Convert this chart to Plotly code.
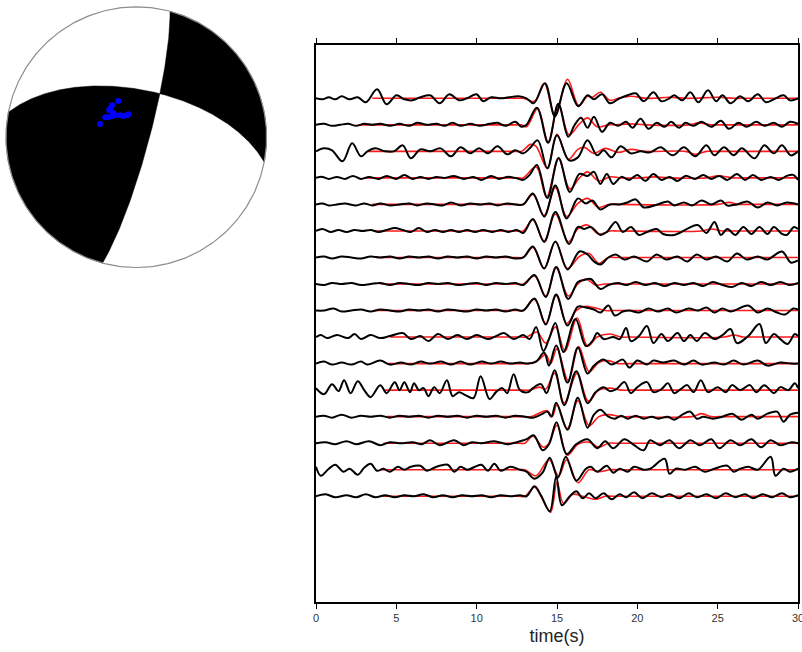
import numpy as np
import plotly.graph_objects as go

# ---------------- data ----------------
# focal mechanism nodal planes (strike, dip in degrees)
STRIKE1, DIP1 = 15.0, 82.0
STRIKE2, DIP2 = 281.0, 60.0

# station points on the beachball (normalized projection coordinates)
STA_X = [-0.138, -0.185, -0.200, -0.208, -0.177, -0.238, -0.215, -0.185, -0.162, -0.123, -0.100, -0.069, -0.062, -0.279]
STA_Y = [0.277, 0.246, 0.223, 0.208, 0.185, 0.154, 0.154, 0.162, 0.169, 0.169, 0.162, 0.169, 0.177, 0.101]

X_TICKS = [0, 5, 10, 15, 20, 25, 30]
X_TITLE = "time(s)"

# observed (black) waveforms: (time s, amplitude) keypoints
O0 = [(0,0),(0.4,-1),(0.8,1),(1.2,-1),(1.6,2),(2.1,-1),(2.6,1),(3.1,-4),(3.8,9),(4.4,-6),(5.0,3),(5.5,-1),(6.0,-2),(6.5,1),(7.1,3),(7.7,-5),(8.3,4),(8.9,-2),(9.4,0),(10.0,4),(10.4,-3),(10.9,1),(11.5,0),(12.0,1),(12.6,2),(13.1,0),(13.55,-5),(14.25,15),(14.87,-18),(15.6,15),(16.32,-8),(16.9,3),(17.3,-1),(17.8,4),(18.3,-5),(18.9,0),(19.4,3),(19.9,5),(20.4,-3),(21.0,6),(21.5,-3),(22.0,0),(22.3,3),(22.8,-2),(23.3,6),(23.8,-4),(24.4,8),(24.9,-3),(25.3,3),(25.8,-5),(26.4,2),(26.9,-3),(27.5,4),(28.0,-4),(28.5,-1),(29.1,3),(29.5,-2),(30,0)]
O1 = [(0,0),(0.5,1),(1.0,-1),(1.5,0),(2.0,1),(2.5,-1),(3.0,1),(3.5,0),(4.0,1),(4.6,-1),(5.2,1),(5.8,-1),(6.3,2),(6.9,0),(7.5,1),(8.0,-1),(8.5,2),(9.0,-1),(9.6,1),(10.2,-1),(10.8,1),(11.3,2),(11.8,-1),(12.4,3),(12.8,-2),(13.1,0),(13.75,17),(14.45,-18),(15.08,21),(15.7,-12),(16.1,0),(16.5,7),(16.9,-3),(17.3,8),(17.8,-7),(18.3,2),(18.8,-1),(19.3,3),(19.7,-3),(20.2,6),(20.7,-4),(21.2,2),(21.7,-2),(22.1,3),(22.6,-3),(23.0,2),(23.5,-1),(24.0,3),(24.6,-2),(25.2,4),(25.7,-4),(26.3,2),(26.8,-2),(27.4,3),(27.9,-1),(28.5,2),(29.0,-2),(29.5,3),(30,1)]
O2 = [(0,0),(0.5,3),(1.0,1),(1.65,-10),(2.25,8),(2.8,-5),(3.2,0),(3.7,3),(4.3,0),(4.85,0),(5.4,6),(5.9,-7),(6.5,2),(7.1,0),(7.75,3),(8.4,-5),(9.0,4),(9.6,-2),(10.15,3),(10.7,-2),(11.3,5),(11.9,-3),(12.4,1),(12.9,-2),(13.3,3),(13.8,11),(14.4,-17),(15.0,16),(15.75,-9),(16.3,-6),(16.9,11),(17.5,-4),(17.9,1),(18.4,-6),(18.95,5),(19.6,-2),(20.2,0),(20.8,-1),(21.45,4),(22.2,-4),(22.9,4),(23.6,-5),(24.3,6),(24.8,-4),(25.4,4),(26.0,-4),(26.5,3),(27.3,-7),(27.9,6),(28.5,-2),(29.0,6),(29.55,-4),(30,0)]
O3 = [(0,0),(0.4,1),(0.8,-1),(1.3,1),(1.8,-1),(2.3,2),(2.8,-1),(3.3,1),(3.9,-1),(4.4,2),(5.0,-1),(5.5,3),(6.0,-1),(6.5,1),(7.0,-1),(7.5,1),(8.0,0),(8.6,2),(9.2,-1),(9.8,1),(10.3,-2),(10.9,2),(11.4,-1),(11.9,1),(12.4,0),(12.9,-2),(13.3,3),(13.75,13),(14.4,-20),(15.1,20),(15.8,-14),(16.4,4),(16.9,2),(17.3,6),(17.7,-6),(18.1,4),(18.5,-6),(19.0,1),(19.5,-2),(20.0,3),(20.5,-3),(21.0,4),(21.5,-2),(22.0,1),(22.5,-3),(23.0,2),(23.6,-1),(24.1,3),(24.6,-1),(25.1,2),(25.6,-2),(26.2,4),(26.7,-2),(27.2,3),(27.7,-2),(28.3,1),(28.8,-2),(29.3,2),(29.7,3),(30,-2)]
O4 = [(0,0),(0.4,1),(0.8,-1),(1.3,0),(1.8,1),(2.5,-1),(3.0,1),(3.5,-1),(4.0,1),(4.6,-1),(5.2,0),(5.8,1),(6.3,-1),(6.9,1),(7.4,0),(7.9,-1),(8.4,2),(9.0,-1),(9.6,1),(10.2,0),(10.8,1),(11.3,-1),(11.9,1),(12.4,0),(12.9,0),(13.5,11),(14.2,-12),(14.9,19),(15.6,-14),(16.3,6),(16.8,1),(17.2,4),(17.7,-5),(18.3,0),(18.9,0),(19.4,2),(19.9,5),(20.4,-3),(21.25,0),(21.9,3),(22.3,-1),(22.9,2),(23.4,-1),(24.0,4),(24.6,0),(25.2,4),(25.6,-1),(26.2,0),(26.85,3),(27.5,-3),(28.1,2),(28.7,-1),(29.3,2),(30,0)]
O5 = [(0,0),(0.4,2),(0.9,-1),(1.4,1),(1.9,-1),(2.4,1),(2.9,0),(3.4,1),(3.9,-1),(4.4,1),(4.9,3),(5.4,1),(5.9,-1),(6.4,3),(6.9,-1),(7.4,1),(7.9,-1),(8.4,1),(8.9,-1),(9.4,1),(9.9,-1),(10.4,1),(11.0,-1),(11.5,1),(12.0,-1),(12.5,1),(12.9,-2),(13.5,12),(14.2,-11),(14.9,19),(15.75,-13),(16.3,4),(16.7,2),(17.1,4),(17.7,-4),(18.1,-1),(18.65,9),(19.1,-1),(19.6,4),(20.1,-4),(20.6,-1),(21.2,2),(21.6,-3),(22.3,-4),(23.1,2),(23.75,6),(24.3,-2),(24.8,9),(25.2,-4),(25.6,2),(26.1,-4),(26.6,4),(27.1,-3),(27.6,4),(28.1,-3),(28.5,4),(29.0,-3),(29.3,-4),(29.75,4),(30,2)]
O6 = [(0,0),(0.5,1),(1.0,-1),(1.6,1),(2.2,0),(2.8,-1),(3.4,1),(4.0,0),(4.6,1),(5.2,-1),(5.8,1),(6.4,0),(7.0,1),(7.6,-1),(8.2,1),(8.8,0),(9.4,1),(10.0,-1),(10.6,1),(11.2,0),(11.8,1),(12.4,-1),(12.9,0),(13.5,11),(14.2,-11),(14.9,16),(15.65,-12),(16.4,6),(16.9,3),(17.3,-4),(17.7,-7),(18.2,0),(18.65,3),(19.2,-2),(19.8,1),(20.6,-4),(21.2,3),(21.8,-2),(22.5,1),(23.1,-4),(23.7,3),(24.3,-2),(24.9,1),(25.6,-4),(26.2,4),(26.8,-2),(27.5,1),(28.1,-2),(29.0,6),(29.55,-5),(30,-3)]
O7 = [(0,0),(0.5,-1),(1.0,1),(1.6,0),(2.2,1),(2.8,-1),(3.4,0),(4.0,1),(4.6,-1),(5.2,1),(5.8,0),(6.4,-1),(7.0,1),(7.6,0),(8.2,1),(8.8,-1),(9.4,0),(10.0,1),(10.6,-1),(11.2,1),(11.8,0),(12.4,1),(12.9,-1),(13.6,9),(14.3,-13),(14.95,17),(15.7,-15),(16.3,2),(16.7,4),(17.1,5),(17.7,-5),(18.2,-1),(18.8,1),(19.3,-1),(19.9,2),(20.5,-1),(21.1,1),(21.7,-2),(22.3,1),(22.9,-1),(23.5,1),(24.1,-2),(24.7,2),(25.3,-1),(25.9,-3),(26.5,1),(27.1,-2),(27.7,2),(28.3,-1),(28.9,2),(29.5,-1),(30,1)]
O8 = [(0,0),(0.5,0),(1.1,2),(1.6,-1),(2.2,0),(2.8,1),(3.4,-1),(4.0,1),(4.6,0),(5.2,-1),(5.8,1),(6.4,0),(7.0,1),(7.6,-1),(8.2,1),(8.8,0),(9.4,-1),(10.0,1),(10.6,0),(11.2,1),(11.8,-1),(12.4,1),(12.9,0),(13.6,12),(14.3,-14),(14.95,16),(15.65,-15),(16.3,4),(16.8,3),(17.3,1),(17.7,-2),(18.2,5),(18.6,-5),(19.1,-1),(19.5,0),(20.1,-2),(20.7,2),(21.3,-1),(21.9,2),(22.4,-2),(23.2,2),(23.8,0),(24.3,3),(24.8,-2),(25.3,2),(25.8,-1),(26.9,5),(27.5,-2),(28.1,2),(28.7,-2),(29.2,-4),(29.7,2),(30,1)]
O9 = [(0,0),(0.3,2),(0.7,-1),(1.3,2),(2.0,-1),(2.4,3),(2.8,-2),(3.4,2),(4.0,-1),(4.6,1),(5.4,4),(5.9,-2),(6.5,1),(7.0,-4),(7.6,3),(8.2,-2),(8.8,2),(9.4,-2),(10.0,2),(10.7,-2),(11.2,1),(11.7,4),(12.3,-2),(12.9,2),(13.3,-2),(13.7,10),(14.15,-14),(14.5,-2),(14.9,14),(15.4,-15),(16.15,18),(16.8,-9),(17.2,-4),(17.5,4),(17.9,-2),(18.5,0),(18.9,-2),(19.3,9),(19.6,-4),(20.1,1),(20.6,11),(21.0,-6),(21.5,3),(21.9,-4),(22.5,4),(22.9,-4),(23.3,2),(23.7,-4),(24.2,4),(24.8,-2),(25.3,2),(25.8,8),(26.2,-6),(26.9,1),(27.6,13),(28.0,-6),(28.5,3),(28.9,-2),(29.35,-7),(29.8,3),(30,1)]
O10 = [(0,0),(0.5,2),(1.0,-1),(1.6,1),(2.2,-1),(2.8,2),(3.2,-1),(4.0,3),(4.6,-1),(5.3,1),(5.9,-1),(6.5,2),(7.1,0),(7.8,2),(8.4,-1),(9.0,2),(9.6,-1),(10.3,2),(10.9,0),(11.5,2),(12.1,0),(12.7,1),(13.2,0),(13.7,2),(14.2,11),(14.5,-2),(14.95,18),(15.65,-19),(16.3,16),(16.9,-10),(17.3,-2),(17.9,4),(18.4,-1),(19.1,4),(19.5,-4),(20.0,3),(20.6,-1),(21.0,3),(21.6,1),(22.3,3),(22.9,-1),(23.5,3),(24.0,-1),(24.8,1),(25.4,-1),(26.0,3),(26.6,-1),(27.5,3),(28.1,-2),(28.9,1),(29.6,0),(30,0)]
O11 = [(0,2),(0.5,-4),(1.0,6),(1.4,-1),(1.75,10),(2.15,-3),(2.6,9),(3.0,0),(3.4,-7),(4.0,5),(4.4,-3),(4.9,8),(5.2,0),(5.5,8),(5.85,-2),(6.1,7),(6.4,0),(6.7,2),(7.0,-6),(7.35,3),(7.7,-3),(8.15,10),(8.5,-6),(8.9,-2),(9.3,-5),(9.8,-8),(10.25,14),(10.8,-9),(11.2,-2),(11.6,2),(11.9,-3),(12.3,16),(12.7,0),(13.2,-2),(13.5,2),(14.0,6),(14.35,-3),(14.85,20),(15.45,-15),(16.2,19),(16.9,-13),(17.4,-2),(17.9,3),(18.3,-1),(18.7,1),(19.2,8),(19.6,-3),(20.0,3),(20.6,8),(21.0,-2),(21.5,1),(21.9,7),(22.3,-3),(22.7,1),(23.1,5),(23.5,-2),(23.95,10),(24.4,-2),(25.0,3),(25.5,-2),(25.9,5),(26.4,0),(27.0,5),(27.4,-2),(27.9,5),(28.5,-3),(28.9,3),(29.4,0),(29.8,7),(30,2)]
O12 = [(0,0),(0.5,1),(1.0,-1),(1.6,2),(2.2,-1),(2.8,1),(3.4,0),(4.0,1),(4.6,-1),(5.2,1),(5.8,0),(6.4,1),(7.0,-1),(7.6,1),(8.2,0),(8.8,1),(9.4,-1),(10.0,1),(10.6,0),(11.2,1),(11.8,-1),(12.4,1),(13.0,0),(13.5,-1),(14.0,2),(14.4,5),(14.65,0),(14.95,14),(15.65,-13),(16.3,19),(16.9,-11),(17.3,2),(17.7,7),(18.2,0),(18.6,-2),(19.0,1),(19.4,-2),(19.9,1),(20.4,-2),(20.9,0),(21.3,-2),(21.9,0),(22.3,-3),(22.8,2),(23.3,5),(23.7,-2),(24.1,0),(24.7,-2),(25.3,0),(25.9,3),(26.5,-3),(27.1,2),(27.5,-2),(28.1,3),(28.7,5),(29.1,-5),(29.5,2),(30,4)]
O13 = [(0,0),(0.6,1),(1.2,-1),(1.9,2),(2.5,-1),(3.3,2),(4.0,-2),(4.6,1),(5.3,0),(6.0,1),(6.6,-1),(7.1,3),(7.7,-2),(8.6,3),(9.2,-2),(9.7,1),(10.3,0),(11.1,2),(11.9,-1),(12.5,1),(13.1,4),(13.55,8),(14.1,-7),(14.5,-1),(14.97,21),(15.6,-11),(16.2,-1),(16.9,4),(17.5,-5),(18.0,2),(18.5,-5),(19.2,4),(19.8,-2),(20.4,-7),(20.8,3),(21.4,-2),(22.0,3),(22.6,-5),(23.3,3),(23.9,-2),(24.6,4),(25.1,-5),(25.8,3),(26.4,-2),(27.1,4),(27.7,-4),(28.3,3),(28.9,-2),(29.6,1),(30,0)]
O14 = [(0,3),(0.3,-6),(0.8,1),(1.2,5),(1.7,-2),(2.1,1),(2.6,-5),(3.0,2),(3.4,6),(3.8,-1),(4.2,1),(4.6,-2),(5.1,3),(5.5,0),(5.9,3),(6.5,4),(6.9,-1),(7.5,3),(8.2,5),(8.6,-2),(9.0,3),(9.4,0),(9.9,3),(10.3,5),(10.7,-1),(11.1,6),(11.5,-1),(12.1,3),(12.7,0),(13.1,-2),(13.6,-9),(14.1,-3),(14.55,12),(15.05,-8),(15.55,13),(16.2,-11),(16.8,1),(17.1,3),(17.5,-2),(18.1,4),(18.5,-3),(18.9,1),(19.4,-2),(19.8,3),(20.4,0),(20.8,1),(21.7,11),(22.0,-4),(22.4,1),(23.0,0),(23.6,3),(24.2,-2),(24.8,1),(25.6,4),(26.0,-2),(26.4,1),(26.9,3),(27.5,0),(28.3,13),(28.6,-6),(29.1,1),(29.5,-2),(30,1)]
O15 = [(0,0),(0.6,2),(1.2,-1),(1.9,1),(2.5,-1),(3.1,2),(3.7,-1),(4.3,1),(4.9,-1),(5.5,1),(6.1,0),(6.7,2),(7.3,-1),(7.9,1),(8.5,-1),(9.1,1),(9.7,0),(10.3,1),(10.9,-1),(11.5,1),(12.1,0),(12.7,1),(13.1,0),(13.6,10),(14.0,1),(14.55,-15),(14.95,20),(15.3,-9),(15.8,0),(16.2,5),(16.6,-2),(17.0,3),(17.4,-2),(17.9,3),(18.4,-3),(18.9,2),(19.3,-1),(19.8,4),(20.3,-2),(20.9,3),(21.5,-1),(22.0,2),(22.6,-2),(23.2,3),(23.7,-1),(24.3,2),(24.9,-2),(25.5,3),(26.1,-1),(26.7,2),(27.2,-2),(27.8,2),(28.4,-1),(29.0,3),(29.5,-1),(30,1)]

# synthetic (red) waveforms: (time s, amplitude) keypoints
R0 = [(3.5,0),(12.4,0),(12.9,0),(13.6,-3),(14.2,15),(14.87,-17),(15.65,19),(16.35,-7),(16.9,2),(17.2,1),(17.7,6),(18.3,-2),(18.8,0),(19.6,2),(20.5,0),(21.0,0),(22.0,1),(23.0,0),(23.5,0),(25.0,1),(26.0,0),(26.5,0),(30,0)]
R1 = [(2.6,0),(12.4,0),(12.8,0),(13.1,-2),(13.8,16),(14.45,-17),(15.1,20),(15.75,-10),(16.4,1),(16.9,7),(17.5,-2),(18.2,0),(18.7,0),(19.5,1),(20.5,0),(23.2,0),(23.8,2),(24.6,0),(25.1,0),(30,0)]
R2 = [(3.2,0),(12.4,0),(12.8,0),(13.35,7),(13.7,5),(14.4,-17),(15.0,17),(15.7,-8),(16.3,2),(16.7,4),(17.3,-2),(18.0,3),(18.8,-1),(19.6,2),(20.5,0),(23.0,0),(23.6,-3),(24.3,0),(24.8,0),(30,0)]
R3 = [(3.0,0),(12.5,0),(12.9,0),(13.7,11),(14.35,-19),(15.1,19),(15.8,-11),(16.4,0),(16.9,6),(17.6,-3),(18.3,1),(19.0,0),(20.3,0),(21.0,1),(22.0,0),(24.3,0),(25.0,2),(26.0,0),(26.5,0),(30,0)]
R4 = [(3.5,0),(12.5,0),(12.9,0),(13.5,10),(14.2,-11),(14.9,17),(15.6,-12),(16.3,1),(16.9,6),(17.6,-3),(18.2,0),(18.7,0),(25.0,0),(25.7,2),(26.3,0),(26.8,0),(30,0)]
R5 = [(3.6,0),(12.5,0),(12.9,0),(13.5,11),(14.2,-10),(14.9,17),(15.7,-11),(16.3,2),(16.9,6),(17.6,-3),(18.3,0),(18.8,0),(24.0,0),(24.6,2),(25.3,0),(25.8,0),(30,0)]
R6 = [(3.9,0),(12.5,0),(12.9,0),(13.5,10),(14.2,-11),(14.9,16),(15.65,-11),(16.4,1),(17.0,4),(17.6,-6),(18.2,0),(18.7,0),(30,0)]
R7 = [(4.0,0),(12.5,0),(12.9,0),(13.6,8),(14.3,-12),(14.95,16),(15.7,-12),(16.3,0),(16.8,5),(17.4,-1),(18.0,0),(18.5,0),(30,0)]
R8 = [(3.6,0),(12.5,0),(12.9,0),(13.6,11),(14.3,-13),(14.95,15),(15.6,-13),(16.2,0),(16.7,4),(17.3,3),(18.0,0),(18.5,0),(30,0)]
R9 = [(4.6,0),(12.7,0),(13.1,0),(13.75,5),(14.3,-6),(14.9,10),(15.5,-14),(16.25,19),(16.9,-9),(17.5,0),(18.3,3),(19.0,0),(19.5,0),(25.4,0),(26.0,2),(26.6,0),(27.1,0),(30,0)]
R10 = [(4.5,0),(12.8,0),(13.2,0),(13.8,3),(14.3,9),(14.6,0),(15.0,15),(15.7,-17),(16.35,17),(17.0,-8),(17.6,1),(18.2,3),(18.8,0),(19.3,0),(30,0)]
R11 = [(4.3,0),(12.9,0),(13.3,0),(13.9,3),(14.3,1),(14.85,17),(15.45,-13),(16.25,17),(16.95,-11),(17.6,0),(18.3,2),(19.0,0),(19.5,0),(30,0)]
R12 = [(4.4,0),(13.0,0),(13.4,0),(14.4,6),(14.7,0),(15.0,12),(15.65,-12),(16.3,16),(17.0,-9),(17.6,0),(18.2,2),(19.0,0),(19.5,0),(23.4,0),(24.0,3),(24.6,0),(25.1,0),(30,0)]
R13 = [(4.2,0),(12.6,0),(13.0,0),(13.5,7),(14.15,-4),(14.5,0),(15.0,18),(15.65,-12),(16.3,-1),(17.0,1),(17.6,-4),(18.2,0),(18.7,0),(30,0)]
R14 = [(4.0,0),(12.6,0),(13.0,0),(13.7,-6),(14.5,10),(15.1,-6),(15.6,10),(16.3,-13),(17.0,0),(17.6,-2),(18.3,0),(18.8,0),(30,0)]
R15 = [(4.1,0),(12.6,0),(13.0,0),(13.6,9),(14.0,0),(14.6,-16),(15.0,14),(15.4,-7),(16.0,2),(16.6,0),(17.4,-3),(18.0,0),(18.5,0),(30,0)]

OBSERVED = [O0, O1, O2, O3, O4, O5, O6, O7, O8, O9, O10, O11, O12, O13, O14, O15]
SYNTHETIC = [R0, R1, R2, R3, R4, R5, R6, R7, R8, R9, R10, R11, R12, R13, R14, R15]

# ---------------- styling / layout constants ----------------
W, H = 802, 652
SPACING = 26.53           # vertical trace separation (y units)
PLOT_L, PLOT_R, PLOT_T, PLOT_B = 316, 798, 45, 602
FIRST_BASE = 98.3

fig = go.Figure()

# ---- seismograms ----
for i, syn in enumerate(SYNTHETIC):
    off = -i * SPACING
    st, sa = zip(*syn)
    fig.add_trace(go.Scatter(x=list(st), y=[a + off for a in sa], mode="lines",
                             line=dict(color="#ff1a1a", width=1.6, shape="spline", smoothing=1.0),
                             hoverinfo="skip", showlegend=False, xaxis="x", yaxis="y"))
for i, obs in enumerate(OBSERVED):
    off = -i * SPACING
    ot, oa = zip(*obs)
    fig.add_trace(go.Scatter(x=list(ot), y=[a + off for a in oa], mode="lines",
                             line=dict(color="black", width=2.0, shape="spline", smoothing=1.0),
                             hoverinfo="skip", showlegend=False, xaxis="x", yaxis="y"))

# ---- beachball (lower hemisphere, equal-area) ----
def plane_vectors(strike, dip):
    f, d = np.radians(strike), np.radians(dip)
    s = np.array([np.cos(f), np.sin(f), 0.0])
    dv = np.array([-np.sin(f) * np.cos(d), np.cos(f) * np.cos(d), np.sin(d)])
    n = np.array([-np.sin(d) * np.sin(f), np.sin(d) * np.cos(f), -np.cos(d)])
    return s, dv, n

def project(v):
    N, E, D = v
    D = np.clip(D, 0.0, 1.0)
    p = np.arcsin(D)
    r = np.sqrt(2.0) * np.sin((np.pi / 2 - p) / 2)
    az = np.arctan2(E, N)
    return r * np.sin(az), r * np.cos(az)

def plane_curve(s, dv, th0, th1, n=200):
    th = np.linspace(th0, th1, n)
    v = np.outer(np.cos(th), s) + np.outer(np.sin(th), dv)
    return project(v.T)

def prim_arc(a0, a1, n=200):
    a = np.radians(np.linspace(a0, a1, n))
    return np.sin(a), np.cos(a)

s1, d1, n1 = plane_vectors(STRIKE1, DIP1)
s2, d2, n2 = plane_vectors(STRIKE2, DIP2)
B = np.cross(n1, n2)
B = B / np.linalg.norm(B)
if B[2] < 0:
    B = -B
thB1 = np.arctan2(B @ d1, B @ s1)
thB2 = np.arctan2(B @ d2, B @ s2)

# compressional quadrant 1 (between strike1 and strike2+180)
xa, ya = plane_curve(s1, d1, thB1, 0.0)
xb, yb = prim_arc(STRIKE1, STRIKE2 - 180)
xc, yc = plane_curve(s2, d2, np.pi, thB2)
q1x = np.concatenate([xa, xb, xc]); q1y = np.concatenate([ya, yb, yc])
# compressional quadrant 2 (between strike1+180 and strike2)
xa, ya = plane_curve(s1, d1, thB1, np.pi)
xb, yb = prim_arc(STRIKE1 + 180, STRIKE2)
xc, yc = plane_curve(s2, d2, 0.0, thB2)
q2x = np.concatenate([xa, xb, xc]); q2y = np.concatenate([ya, yb, yc])

for qx, qy in ((q1x, q1y), (q2x, q2y)):
    fig.add_trace(go.Scatter(x=qx, y=qy, mode="lines", fill="toself", fillcolor="black",
                             line=dict(color="black", width=0.5), hoverinfo="skip",
                             showlegend=False, xaxis="x2", yaxis="y2"))
cx, cy = prim_arc(0, 360, 400)
fig.add_trace(go.Scatter(x=cx, y=cy, mode="lines", line=dict(color="#8c8c8c", width=1.2),
                         hoverinfo="skip", showlegend=False, xaxis="x2", yaxis="y2"))
fig.add_trace(go.Scatter(x=STA_X, y=STA_Y, mode="markers",
                         marker=dict(color="#0000ff", size=6, line=dict(width=0)),
                         hoverinfo="skip", showlegend=False, xaxis="x2", yaxis="y2"))

# ---- layout ----
ycen_bb, xcen_bb, rad_bb = 137.2, 136.3, 130.3
ext = 1.02
fig.update_layout(
    width=W, height=H, margin=dict(l=0, r=0, t=0, b=0, autoexpand=False),
    paper_bgcolor="white", plot_bgcolor="rgba(0,0,0,0)",
    font=dict(family="Liberation Sans, Arial, sans-serif"),
    xaxis=dict(domain=[PLOT_L / W, PLOT_R / W], range=[0, 30], tickvals=X_TICKS,
               ticks="outside", ticklen=5, tickwidth=1, tickcolor="black",
               showline=True, linecolor="black", linewidth=1.6, mirror="ticks",
               showgrid=False, zeroline=False, ticklabeloverflow="allow", automargin=False,
               tickfont=dict(size=11, color="#333333"),
               title=dict(text=X_TITLE, font=dict(size=18, color="#222222"), standoff=6)),
    yaxis=dict(domain=[1 - PLOT_B / H, 1 - PLOT_T / H],
               range=[-(PLOT_B - FIRST_BASE), FIRST_BASE - PLOT_T], automargin=False,
               showline=True, linecolor="black", linewidth=1.6, mirror=True,
               showticklabels=False, ticks="", showgrid=False, zeroline=False),
    xaxis2=dict(domain=[(xcen_bb - rad_bb * ext) / W, (xcen_bb + rad_bb * ext) / W],
                range=[-ext, ext], visible=False, anchor="y2", automargin=False),
    yaxis2=dict(domain=[1 - (ycen_bb + rad_bb * ext) / H, 1 - (ycen_bb - rad_bb * ext) / H],
                range=[-ext, ext], visible=False, anchor="x2", automargin=False),
)

fig.write_html("out.html", config={"displayModeBar": False},
               post_script="document.body.style.margin='0px';document.body.style.overflow='hidden';")
